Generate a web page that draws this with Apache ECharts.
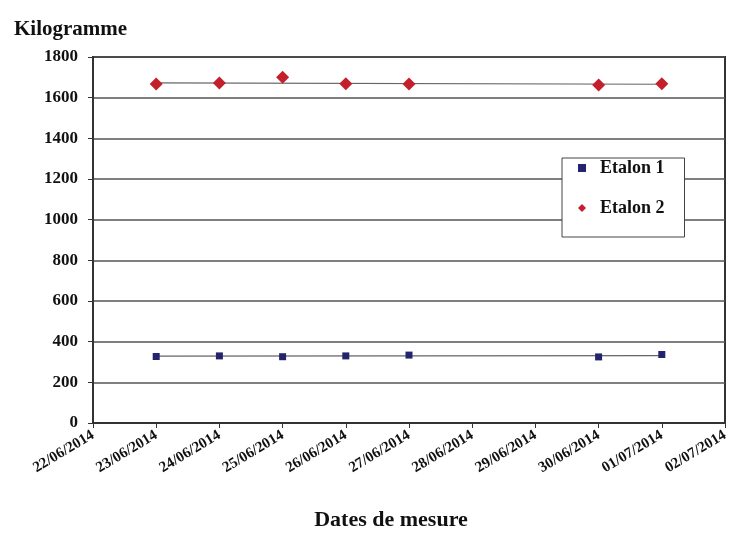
<!DOCTYPE html>
<html>
<head>
<meta charset="utf-8">
<script src="https://cdn.jsdelivr.net/npm/echarts@6/dist/echarts.min.js"></script>
<style>
  html, body { margin: 0; padding: 0; background: #fff; }
  #chart { width: 738px; height: 546px; }
</style>
</head>
<body>
<div id="chart"></div>
<script>
// Measurement dates on the horizontal axis
const dates = ['22/06/2014', '23/06/2014', '24/06/2014', '25/06/2014', '26/06/2014',
               '27/06/2014', '28/06/2014', '29/06/2014', '30/06/2014', '01/07/2014', '02/07/2014'];

// Mass measurements (kg); null where no measurement was taken
const etalon1 = [null, 327, 330, 326, 330, 334, null, null, 325, 337, null];
const etalon2 = [null, 1667, 1672, 1700, 1668, 1667, null, null, 1662, 1668, null];

// Linear trend endpoints for each standard
const trend1 = [null, 329, null, null, null, null, null, null, null, 331, null];
const trend2 = [null, 1673, null, null, null, null, null, null, null, 1666, null];

const yTicks = { min: 0, max: 1800, interval: 200 };

const serif = '"Liberation Serif", "Times New Roman", serif';
const blue = '#23236e';
const red = '#c3202b';

const chart = echarts.init(document.getElementById('chart'));
chart.setOption({
  backgroundColor: '#ffffff',
  animation: false,
  textStyle: { fontFamily: serif },
  title: [
    {
      text: 'Kilogramme', left: 9, top: 14,
      textStyle: { fontFamily: serif, fontWeight: 'bold', fontSize: 21, color: '#111' }
    },
    {
      text: 'Dates de mesure', left: 386, top: 504, textAlign: 'center',
      textStyle: { fontFamily: serif, fontWeight: 'bold', fontSize: 22, color: '#111' }
    }
  ],
  grid: {
    left: 93, right: 13, top: 57, bottom: 123,
    show: true, borderColor: '#333', borderWidth: 2, backgroundColor: '#fff'
  },
  legend: {
    orient: 'vertical',
    left: 562, top: 158,
    padding: [1, 20, 20, 16],
    itemGap: 22,
    itemWidth: 8, itemHeight: 8,
    backgroundColor: '#fff',
    borderColor: '#444', borderWidth: 1,
    textStyle: { fontFamily: serif, fontWeight: 'bold', fontSize: 18, color: '#111', padding: [0, 0, 0, 9] },
    data: [
      { name: 'Etalon 1', icon: 'rect', itemStyle: { color: blue } },
      { name: 'Etalon 2', icon: 'diamond', itemStyle: { color: red } }
    ]
  },
  xAxis: {
    type: 'category',
    data: dates,
    boundaryGap: false,
    axisLine: { show: true, lineStyle: { color: '#333', width: 2 } },
    axisTick: { show: true, inside: false, length: 5, lineStyle: { color: '#333' } },
    axisLabel: {
      rotate: 31, margin: 11, interval: 0,
      fontFamily: serif, fontWeight: 'bold', fontSize: 15, color: '#111'
    },
    splitLine: { show: false }
  },
  yAxis: {
    type: 'value',
    min: yTicks.min, max: yTicks.max, interval: yTicks.interval,
    axisLine: { show: true, lineStyle: { color: '#333', width: 2 } },
    axisTick: { show: true, length: 5, lineStyle: { color: '#333' } },
    axisLabel: {
      margin: 15, fontFamily: serif, fontWeight: 'bold', fontSize: 17, color: '#111',
      formatter: v => String(v)
    },
    splitLine: { show: true, lineStyle: { color: '#555', width: 1.5 } }
  },
  series: [
    {
      name: 'Etalon 1', type: 'line', data: etalon1,
      symbol: 'rect', symbolSize: 7, showSymbol: true,
      lineStyle: { width: 0, opacity: 0 },
      itemStyle: { color: blue }, z: 5
    },
    {
      name: 'Etalon 2', type: 'line', data: etalon2,
      symbol: 'diamond', symbolSize: 13, showSymbol: true,
      lineStyle: { width: 0, opacity: 0 },
      itemStyle: { color: red }, z: 5
    },
    {
      name: 'trend1', type: 'line', data: trend1, connectNulls: true,
      symbol: 'none', lineStyle: { color: '#666', width: 1.2 }, z: 3, silent: true
    },
    {
      name: 'trend2', type: 'line', data: trend2, connectNulls: true,
      symbol: 'none', lineStyle: { color: '#666', width: 1.2 }, z: 3, silent: true
    }
  ]
});
</script>
</body>
</html>
